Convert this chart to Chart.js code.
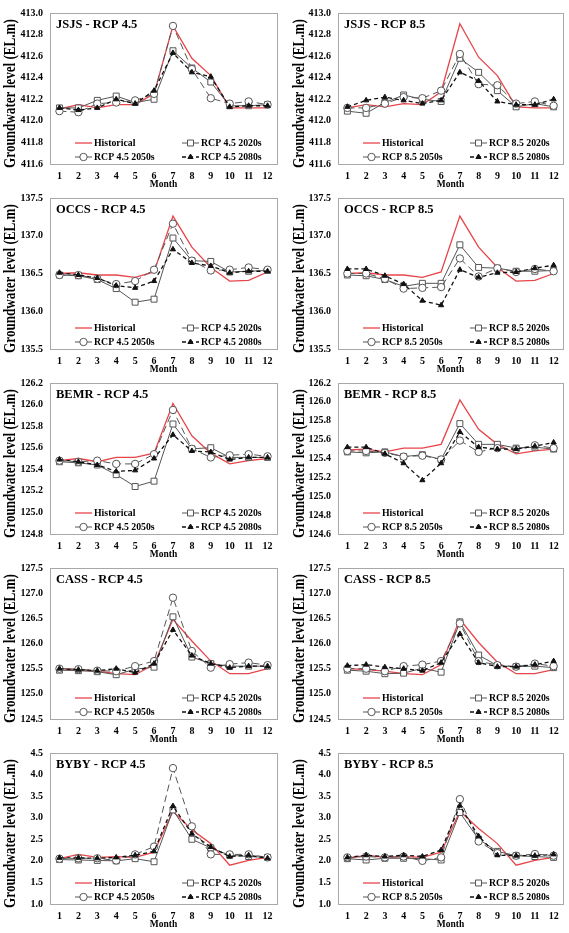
<!DOCTYPE html>
<html>
<head>
<meta charset="utf-8">
<script src="https://cdn.jsdelivr.net/npm/chart.js@4.4.0/dist/chart.umd.min.js"></script>
<style>
  body { margin: 0; background: #fff; }
  #wrap { position: relative; width: 569px; height: 933px; }
  canvas { position: absolute; }
</style>
</head>
<body>
<div id="wrap"></div>
<script>
const serif = "'Liberation Serif', 'Times New Roman', serif";
const months = ['1', '2', '3', '4', '5', '6', '7', '8', '9', '10', '11', '12'];
const yTitle = 'Groundwater level (EL.m)';
const xTitle = 'Month';
const names45 = ['Historical', 'RCP 4.5 2020s', 'RCP 4.5 2050s', 'RCP 4.5 2080s'];
const names85 = ['Historical', 'RCP 8.5 2020s', 'RCP 8.5 2050s', 'RCP 8.5 2080s'];

// y tick labels
const ticksJSJS = [411.6, 411.8, 412.0, 412.2, 412.4, 412.6, 412.8, 413.0];
const ticksOCCS = [135.5, 136.0, 136.5, 137.0, 137.5];
const ticksBEMR45 = [124.8, 125.0, 125.2, 125.4, 125.6, 125.8, 126.0, 126.2];
const ticksBEMR85 = [124.6, 124.8, 125.0, 125.2, 125.4, 125.6, 125.8, 126.0, 126.2];
const ticksCASS = [124.5, 125.0, 125.5, 126.0, 126.5, 127.0, 127.5];
const ticksBYBY = [1.0, 1.5, 2.0, 2.5, 3.0, 3.5, 4.0, 4.5];

// JSJS
const jsjs45Hist = [412.11, 412.15, 412.12, 412.15, 412.15, 412.25, 412.88, 412.58, 412.42, 412.12, 412.12, 412.12];
const jsjs45_2020 = [412.12, 412.12, 412.19, 412.23, 412.17, 412.20, 412.65, 412.49, 412.36, 412.14, 412.14, 412.15];
const jsjs45_2050 = [412.09, 412.08, 412.16, 412.17, 412.19, 412.25, 412.88, 412.48, 412.21, 412.16, 412.18, 412.15];
const jsjs45_2080 = [412.12, 412.10, 412.12, 412.20, 412.16, 412.28, 412.63, 412.45, 412.41, 412.13, 412.14, 412.14];
const jsjs85Hist = [412.12, 412.15, 412.13, 412.16, 412.15, 412.27, 412.90, 412.59, 412.42, 412.13, 412.12, 412.12];
const jsjs85_2020 = [412.09, 412.07, 412.17, 412.24, 412.20, 412.18, 412.58, 412.45, 412.28, 412.13, 412.16, 412.13];
const jsjs85_2050 = [412.12, 412.12, 412.16, 412.22, 412.21, 412.28, 412.62, 412.34, 412.33, 412.16, 412.18, 412.14];
const jsjs85_2080 = [412.13, 412.19, 412.22, 412.19, 412.16, 412.19, 412.45, 412.37, 412.18, 412.15, 412.15, 412.20];

// OCCS
const occs45Hist = [136.50, 136.51, 136.48, 136.48, 136.45, 136.52, 137.26, 136.85, 136.58, 136.40, 136.41, 136.52];
const occs45_2020 = [136.48, 136.47, 136.42, 136.30, 136.12, 136.16, 136.97, 136.67, 136.66, 136.52, 136.53, 136.54];
const occs45_2050 = [136.48, 136.48, 136.43, 136.36, 136.40, 136.55, 137.16, 136.67, 136.54, 136.55, 136.58, 136.55];
const occs45_2080 = [136.51, 136.48, 136.44, 136.34, 136.31, 136.40, 136.82, 136.64, 136.60, 136.51, 136.53, 136.53];
const occs85Hist = [136.50, 136.51, 136.48, 136.48, 136.45, 136.52, 137.26, 136.85, 136.58, 136.40, 136.41, 136.50];
const occs85_2020 = [136.48, 136.47, 136.42, 136.33, 136.37, 136.37, 136.88, 136.58, 136.57, 136.53, 136.53, 136.54];
const occs85_2050 = [136.50, 136.50, 136.43, 136.30, 136.31, 136.32, 136.70, 136.46, 136.57, 136.52, 136.56, 136.53];
const occs85_2080 = [136.56, 136.56, 136.47, 136.36, 136.14, 136.08, 136.55, 136.45, 136.51, 136.52, 136.57, 136.61];

// BEMR
const bemr45Hist = [125.48, 125.50, 125.47, 125.51, 125.51, 125.55, 126.01, 125.71, 125.55, 125.45, 125.48, 125.50];
const bemr45_2020 = [125.47, 125.46, 125.44, 125.35, 125.24, 125.29, 125.82, 125.59, 125.60, 125.51, 125.51, 125.51];
const bemr45_2050 = [125.48, 125.47, 125.48, 125.45, 125.45, 125.54, 125.95, 125.59, 125.51, 125.53, 125.54, 125.52];
const bemr45_2080 = [125.49, 125.47, 125.44, 125.38, 125.39, 125.50, 125.72, 125.57, 125.56, 125.49, 125.51, 125.51];
const bemr85Hist = [125.49, 125.50, 125.47, 125.51, 125.51, 125.55, 126.02, 125.71, 125.55, 125.45, 125.48, 125.50];
const bemr85_2020 = [125.47, 125.46, 125.47, 125.42, 125.44, 125.39, 125.77, 125.55, 125.55, 125.51, 125.52, 125.50];
const bemr85_2050 = [125.48, 125.48, 125.46, 125.42, 125.43, 125.39, 125.59, 125.47, 125.51, 125.50, 125.54, 125.51];
const bemr85_2080 = [125.52, 125.52, 125.45, 125.35, 125.17, 125.35, 125.68, 125.52, 125.50, 125.50, 125.53, 125.57];

// CASS
const cass45Hist = [125.50, 125.48, 125.45, 125.40, 125.38, 125.58, 126.48, 126.05, 125.65, 125.40, 125.40, 125.50];
const cass45_2020 = [125.47, 125.46, 125.44, 125.38, 125.49, 125.53, 126.53, 125.73, 125.60, 125.55, 125.55, 125.55];
const cass45_2050 = [125.50, 125.49, 125.46, 125.45, 125.55, 125.65, 126.91, 125.85, 125.52, 125.59, 125.62, 125.57];
const cass45_2080 = [125.50, 125.48, 125.46, 125.50, 125.42, 125.60, 126.27, 125.76, 125.60, 125.52, 125.55, 125.55];
const cass85Hist = [125.50, 125.48, 125.45, 125.40, 125.38, 125.58, 126.48, 126.02, 125.63, 125.40, 125.40, 125.48];
const cass85_2020 = [125.47, 125.45, 125.40, 125.41, 125.51, 125.43, 126.43, 125.77, 125.56, 125.54, 125.55, 125.52];
const cass85_2050 = [125.50, 125.50, 125.45, 125.55, 125.58, 125.65, 126.40, 125.65, 125.57, 125.54, 125.60, 125.55];
const cass85_2080 = [125.56, 125.58, 125.53, 125.50, 125.46, 125.62, 126.19, 125.62, 125.54, 125.54, 125.58, 125.65];

// BYBY
const byby45Hist = [2.05, 2.15, 2.08, 2.10, 2.08, 2.20, 3.15, 2.72, 2.40, 1.90, 2.01, 2.08];
const byby45_2020 = [2.03, 2.02, 2.01, 2.00, 2.05, 1.98, 3.18, 2.50, 2.30, 2.13, 2.10, 2.08];
const byby45_2050 = [2.05, 2.06, 2.06, 2.01, 2.15, 2.33, 4.15, 2.80, 2.15, 2.15, 2.15, 2.08];
const byby45_2080 = [2.07, 2.07, 2.06, 2.08, 2.13, 2.22, 3.27, 2.63, 2.32, 2.10, 2.13, 2.06];
const byby85Hist = [2.05, 2.13, 2.08, 2.10, 2.08, 2.20, 3.15, 2.75, 2.40, 1.90, 2.01, 2.08];
const byby85_2020 = [2.05, 2.02, 2.06, 2.06, 2.05, 2.02, 3.12, 2.50, 2.22, 2.12, 2.10, 2.08];
const byby85_2050 = [2.08, 2.10, 2.08, 2.10, 2.00, 2.08, 3.43, 2.45, 2.18, 2.12, 2.16, 2.12];
const byby85_2080 = [2.08, 2.13, 2.10, 2.13, 2.10, 2.25, 3.28, 2.57, 2.13, 2.12, 2.12, 2.15];

const panels = [
  { title: 'JSJS - RCP 4.5', ticks: ticksJSJS, names: names45, series: [jsjs45Hist, jsjs45_2020, jsjs45_2050, jsjs45_2080] },
  { title: 'JSJS - RCP 8.5', ticks: ticksJSJS, names: names85, series: [jsjs85Hist, jsjs85_2020, jsjs85_2050, jsjs85_2080] },
  { title: 'OCCS - RCP 4.5', ticks: ticksOCCS, names: names45, series: [occs45Hist, occs45_2020, occs45_2050, occs45_2080] },
  { title: 'OCCS - RCP 8.5', ticks: ticksOCCS, names: names85, series: [occs85Hist, occs85_2020, occs85_2050, occs85_2080] },
  { title: 'BEMR - RCP 4.5', ticks: ticksBEMR45, names: names45, series: [bemr45Hist, bemr45_2020, bemr45_2050, bemr45_2080] },
  { title: 'BEMR - RCP 8.5', ticks: ticksBEMR85, names: names85, series: [bemr85Hist, bemr85_2020, bemr85_2050, bemr85_2080] },
  { title: 'CASS - RCP 4.5', ticks: ticksCASS, names: names45, series: [cass45Hist, cass45_2020, cass45_2050, cass45_2080] },
  { title: 'CASS - RCP 8.5', ticks: ticksCASS, names: names85, series: [cass85Hist, cass85_2020, cass85_2050, cass85_2080] },
  { title: 'BYBY - RCP 4.5', ticks: ticksBYBY, names: names45, series: [byby45Hist, byby45_2020, byby45_2050, byby45_2080] },
  { title: 'BYBY - RCP 8.5', ticks: ticksBYBY, names: names85, series: [byby85Hist, byby85_2020, byby85_2050, byby85_2080] }
];

// line / marker styles for Historical, 2020s, 2050s, 2080s
const styles = [
  { borderColor: '#e8454a', borderWidth: 1.3, pointRadius: 0, order: 4 },
  { borderColor: '#555', borderWidth: 1, pointStyle: 'rect', pointRadius: 4.2, pointBackgroundColor: '#fff', pointBorderColor: '#555', pointBorderWidth: 1, order: 3 },
  { borderColor: '#555', borderWidth: 1, borderDash: [7, 4], pointStyle: 'circle', pointRadius: 3.7, pointBackgroundColor: '#fff', pointBorderColor: '#555', pointBorderWidth: 1, order: 2 },
  { borderColor: '#111', borderWidth: 1.3, borderDash: [4, 3], pointStyle: 'triangle', pointRadius: 3, pointBackgroundColor: '#111', pointBorderColor: '#111', pointBorderWidth: 1, order: 1 }
];

function drawMarker(ctx, st, x, y) {
  if (!st.pointRadius) return;
  const r = st.pointRadius;
  ctx.setLineDash([]);
  ctx.lineWidth = st.pointBorderWidth;
  ctx.fillStyle = st.pointBackgroundColor;
  ctx.strokeStyle = st.pointBorderColor;
  ctx.beginPath();
  if (st.pointStyle === 'rect') {
    const s = r * Math.SQRT1_2;
    ctx.rect(x - s, y - s, 2 * s, 2 * s);
  } else if (st.pointStyle === 'circle') {
    ctx.arc(x, y, r, 0, Math.PI * 2);
  } else {
    ctx.moveTo(x, y - r);
    ctx.lineTo(x + r * 0.87, y + r * 0.5);
    ctx.lineTo(x - r * 0.87, y + r * 0.5);
    ctx.closePath();
  }
  ctx.fill();
  ctx.stroke();
}

// box, panel title, legend and y title drawn inside each panel
const panelDecor = {
  id: 'panelDecor',
  afterDraw(chart, args, opts) {
    const { ctx, chartArea: a } = chart;
    ctx.save();
    ctx.strokeStyle = '#a8a8a8';
    ctx.lineWidth = 1;
    ctx.strokeRect(Math.round(a.left) + 0.5, Math.round(a.top) + 0.5, Math.round(a.right - a.left), Math.round(a.bottom - a.top));

    ctx.fillStyle = '#000';
    ctx.font = 'bold 12.5px ' + serif;
    ctx.textAlign = 'left';
    ctx.textBaseline = 'alphabetic';
    ctx.fillText(opts.title, a.left + 6, a.top + 15);

    const colX = [a.left + 25, a.left + 132];
    const rowY = [a.top + 130, a.top + 144];
    const spots = [[0, 0], [1, 0], [0, 1], [1, 1]];
    ctx.font = 'bold 9.8px ' + serif;
    ctx.textBaseline = 'middle';
    opts.names.forEach((name, i) => {
      const st = styles[i];
      const x = colX[spots[i][0]];
      const y = rowY[spots[i][1]];
      ctx.strokeStyle = st.borderColor;
      ctx.lineWidth = st.borderWidth;
      ctx.setLineDash(st.borderDash || []);
      ctx.beginPath();
      ctx.moveTo(x, y);
      ctx.lineTo(x + 17, y);
      ctx.stroke();
      drawMarker(ctx, st, x + 8.5, y);
      ctx.fillStyle = '#000';
      ctx.fillText(name, x + 19, y + 0.5);
    });

    ctx.translate(opts.yTitleX, (a.top + a.bottom) / 2 + 5);
    ctx.rotate(-Math.PI / 2);
    ctx.scale(0.82, 1);
    ctx.font = 'bold 16px ' + serif;
    ctx.textAlign = 'center';
    ctx.fillText(yTitle, 0, 0);
    ctx.restore();
  }
};

const wrap = document.getElementById('wrap');
panels.forEach((p, k) => {
  const col = k % 2;
  const row = Math.floor(k / 2);
  const cv = document.createElement('canvas');
  const w = col ? 284 : 285;
  const h = 193;
  cv.width = w; cv.height = h;
  cv.style.width = w + 'px'; cv.style.height = h + 'px';
  cv.style.left = (col ? 285 : 0) + 'px';
  cv.style.top = (row * 185) + 'px';
  wrap.appendChild(cv);

  new Chart(cv, {
    type: 'line',
    data: {
      labels: months,
      datasets: p.series.map((d, i) => Object.assign({ label: p.names[i], data: d, tension: 0, fill: false }, styles[i]))
    },
    options: {
      responsive: false,
      animation: false,
      layout: { padding: { top: 12, right: col ? 6 : 8, bottom: 0, left: 0 } },
      plugins: {
        legend: { display: false },
        tooltip: { enabled: false },
        panelDecor: { title: p.title, names: p.names, yTitleX: col ? 15 : 10.5 }
      },
      scales: {
        x: {
          offset: true,
          grid: { display: false, drawTicks: false },
          border: { display: false },
          ticks: { padding: 6, color: '#000', autoSkip: false, maxRotation: 0, font: { family: serif, size: 10, weight: 'bold' } },
          title: { display: true, text: xTitle, color: '#000', padding: { top: 0, bottom: 3 }, font: { family: serif, size: 9.5, weight: 'bold' } },
          afterFit(s) { s.height = 29; }
        },
        y: {
          min: p.ticks[0],
          max: p.ticks[p.ticks.length - 1],
          grid: { display: false, drawTicks: false },
          border: { display: false },
          afterBuildTicks(s) { s.ticks = p.ticks.map(v => ({ value: v })); },
          ticks: { padding: 7, color: '#000', callback: v => Number(v).toFixed(1), font: { family: serif, size: 10, weight: 'bold' } },
          afterFit(s) { s.width = col ? 53 : 50; }
        }
      }
    },
    plugins: [panelDecor]
  });
});
</script>
</body>
</html>
